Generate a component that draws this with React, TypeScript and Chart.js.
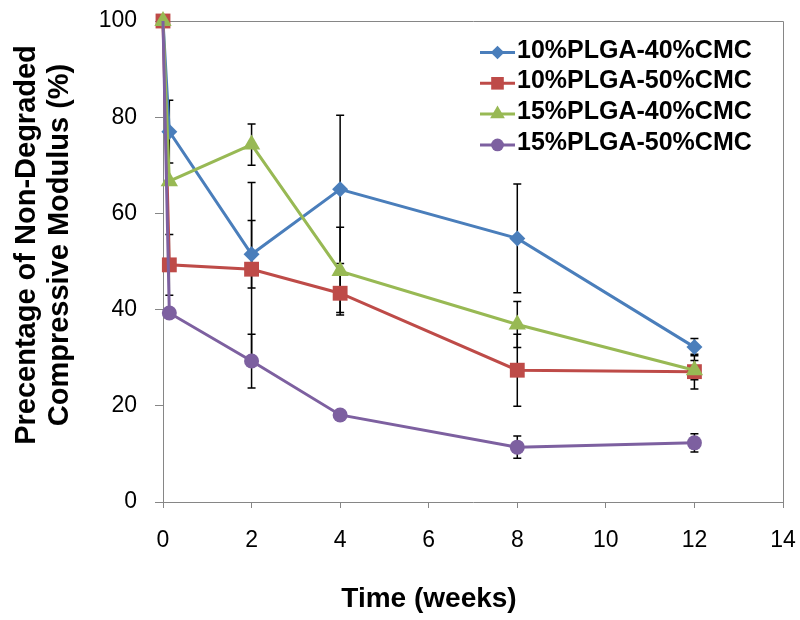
import React, { useEffect, useRef } from 'react';
import { Chart, registerables } from 'chart.js';
Chart.register(...registerables);

// ---- data ----
const weeks = [0, 0.143, 2, 4, 8, 12];
const seriesNames = ['10%PLGA-40%CMC', '10%PLGA-50%CMC', '15%PLGA-40%CMC', '15%PLGA-50%CMC'];
const plga10cmc40 = [100, 77, 51.5, 65, 54.8, 32.2];
const plga10cmc50 = [100, 49.3, 48.4, 43.4, 27.4, 27.1];
const plga15cmc40 = [100, 66.7, 74.3, 48, 36.9, 27.4];
const plga15cmc50 = [100, 39.3, 29.3, 18.1, 11.4, 12.3];
const err10cmc40 = [0, 6.5, 7, 15.4, 11.3, 1.8];
const err10cmc50 = [0, 6.3, 18, 4, 7.5, 3.6];
const err15cmc40 = [0, 0, 4.3, 9.1, 4.8, 2];
const err15cmc50 = [0, 0, 5.6, 1, 2.3, 1.9];
const xTicks = [0, 2, 4, 6, 8, 10, 12, 14];
const yTicks = [0, 20, 40, 60, 80, 100];
const xTitle = 'Time (weeks)';
const yTitleLines = ['Precentage of Non-Degraded', 'Compressive Modulus (%)'];

const colors = ['#4A7EBB', '#BE4B48', '#98B954', '#7D60A0'];
const shapes = ['rectRot', 'rect', 'triangle', 'circle'];
const radii = [8, 10.5, 10, 7.5];
const hideFirstMarker = [true, false, false, true];
const values = [plga10cmc40, plga10cmc50, plga15cmc40, plga15cmc50];
const errors = [err10cmc40, err10cmc50, err15cmc40, err15cmc50];

const FONT = '"Liberation Sans", Arial, sans-serif';
const GRAY = '#868686';

function drawMarker(ctx: CanvasRenderingContext2D, shape: string, x: number, y: number, r: number, color: string) {
  ctx.save();
  ctx.fillStyle = color;
  ctx.beginPath();
  if (shape === 'rectRot') {
    ctx.moveTo(x - r, y); ctx.lineTo(x, y - r); ctx.lineTo(x + r, y); ctx.lineTo(x, y + r);
  } else if (shape === 'rect') {
    const s = Math.SQRT1_2 * r;
    ctx.rect(x - s, y - s, 2 * s, 2 * s);
  } else if (shape === 'triangle') {
    const a = (2 * Math.PI) / 3;
    ctx.moveTo(x, y - r);
    ctx.lineTo(x + Math.sin(a) * r, y - Math.cos(a) * r);
    ctx.lineTo(x - Math.sin(a) * r, y - Math.cos(a) * r);
  } else {
    ctx.arc(x, y, r, 0, Math.PI * 2);
  }
  ctx.closePath();
  ctx.fill();
  ctx.restore();
}

const errorBarPlugin = {
  id: 'errorBars',
  beforeDatasetsDraw(chart: any) {
    const { ctx, scales } = chart;
    ctx.save();
    ctx.strokeStyle = '#000';
    ctx.lineWidth = 1.5;
    errors.forEach((errs, si) => {
      errs.forEach((e, i) => {
        if (!e) return;
        const x = scales.x.getPixelForValue(weeks[i]);
        const yt = scales.y.getPixelForValue(values[si][i] + e);
        const yb = scales.y.getPixelForValue(values[si][i] - e);
        ctx.beginPath();
        ctx.moveTo(x, yt); ctx.lineTo(x, yb);
        ctx.moveTo(x - 4, yt); ctx.lineTo(x + 4, yt);
        ctx.moveTo(x - 4, yb); ctx.lineTo(x + 4, yb);
        ctx.stroke();
      });
    });
    ctx.restore();
  },
};

const framePlugin = {
  id: 'frame',
  beforeDatasetsDraw(chart: any) {
    const { ctx, chartArea: a } = chart;
    ctx.save();
    ctx.strokeStyle = GRAY;
    ctx.lineWidth = 1;
    ctx.beginPath();
    ctx.moveTo(Math.round(a.left) + 0.5, Math.round(a.top) + 0.5);
    ctx.lineTo(Math.round(a.right) + 0.5, Math.round(a.top) + 0.5);
    ctx.lineTo(Math.round(a.right) + 0.5, Math.round(a.bottom) + 0.5);
    ctx.stroke();
    ctx.restore();
  },
  afterDraw(chart: any) {
    const { ctx } = chart;
    ctx.save();
    // axis titles
    ctx.fillStyle = '#000';
    ctx.textAlign = 'center';
    ctx.textBaseline = 'alphabetic';
    ctx.font = `bold 28px ${FONT}`;
    ctx.fillText(xTitle, 429, 607);
    ctx.font = `bold 29px ${FONT}`;
    const baseX = [35, 68];
    yTitleLines.forEach((t, i) => {
      ctx.save();
      ctx.translate(baseX[i], 245);
      ctx.rotate(-Math.PI / 2);
      ctx.fillText(t, 0, 0);
      ctx.restore();
    });

    // legend
    ctx.textAlign = 'left';
    ctx.font = `bold 25px ${FONT}`;
    seriesNames.forEach((name, i) => {
      const base = 57.5 + 30.8 * i;
      const my = base - 5;
      ctx.strokeStyle = colors[i];
      ctx.lineWidth = 3;
      ctx.beginPath();
      ctx.moveTo(480, my); ctx.lineTo(515, my);
      ctx.stroke();
      drawMarker(ctx, shapes[i], 497.5, my, radii[i] * 0.85, colors[i]);
      ctx.fillStyle = '#000';
      ctx.fillText(name, 517, base);
    });
    ctx.restore();
  },
};

export default function App() {
  const ref = useRef<HTMLCanvasElement>(null);
  useEffect(() => {
    if (!ref.current) return;
    const order = [3, 2, 1, 0];
    const chart = new Chart(ref.current, {
      type: 'scatter',
      data: {
        datasets: seriesNames.map((name, si) => ({
          label: name,
          data: weeks.map((w, i) => ({ x: w, y: values[si][i] })),
          showLine: true,
          clip: false,
          borderColor: colors[si],
          backgroundColor: colors[si],
          borderWidth: 3,
          pointStyle: shapes[si] as any,
          pointRadius: weeks.map((_, i) => (i === 0 && hideFirstMarker[si] ? 0 : radii[si])),
          pointBorderWidth: 0,
          pointBackgroundColor: colors[si],
          order: order[si],
        })),
      },
      options: {
        responsive: false,
        animation: false,
        layout: { padding: { left: 0, right: 17, top: 21, bottom: 0 } },
        plugins: { legend: { display: false }, tooltip: { enabled: false } },
        scales: {
          x: {
            type: 'linear',
            min: 0,
            max: 14,
            afterBuildTicks: (s: any) => { s.ticks = xTicks.map((v) => ({ value: v })); },
            afterFit: (s: any) => {
              s.height = 118;
              s.paddingLeft = 0; s.paddingRight = 0; s.paddingTop = 0; s.paddingBottom = 0;
            },
            grid: { display: true, drawOnChartArea: false, drawTicks: true, tickLength: 6, color: GRAY },
            border: { display: true, color: GRAY },
            ticks: { color: '#000', font: { family: FONT, size: 23 }, padding: 19, maxRotation: 0 },
          },
          y: {
            type: 'linear',
            min: 0,
            max: 100,
            afterBuildTicks: (s: any) => { s.ticks = yTicks.map((v) => ({ value: v })); },
            afterFit: (s: any) => {
              s.width = 163;
              s.paddingLeft = 0; s.paddingRight = 0; s.paddingTop = 0; s.paddingBottom = 0;
            },
            grid: { display: true, drawOnChartArea: false, drawTicks: true, tickLength: 8, color: GRAY },
            border: { display: true, color: GRAY },
            ticks: { color: '#000', font: { family: FONT, size: 23 }, padding: 18 },
          },
        },
      },
      plugins: [errorBarPlugin, framePlugin],
    });
    return () => chart.destroy();
  }, []);
  return (
    <div style={{ position: 'absolute', left: 0, top: 0, width: 800, height: 620, background: '#fff' }}>
      <canvas ref={ref} width={800} height={620} style={{ display: 'block' }} />
    </div>
  );
}
